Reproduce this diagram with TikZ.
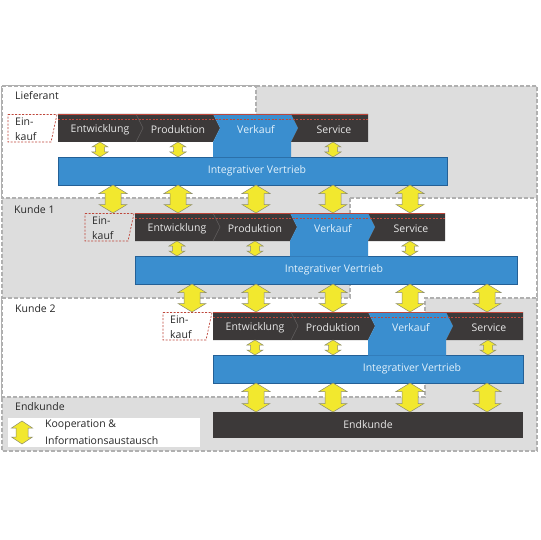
\documentclass[tikz,border=0pt]{standalone}
\usepackage{fontspec}
\setmainfont{Open Sans}
\usetikzlibrary{positioning}

\definecolor{bggrey}{RGB}{221,221,221}
\definecolor{dashgrey}{RGB}{176,176,176}
\definecolor{bardark}{RGB}{60,57,57}
\definecolor{sepgrey}{RGB}{98,94,94}
\definecolor{vblue}{RGB}{58,142,207}
\definecolor{vblueedge}{RGB}{36,96,150}
\definecolor{koopyellow}{RGB}{242,232,46}
\definecolor{koopedge}{RGB}{140,140,110}
\definecolor{einred}{RGB}{190,70,58}
\definecolor{bartext}{RGB}{232,232,232}
\definecolor{bluetext}{RGB}{226,241,251}
\definecolor{labeltext}{RGB}{40,40,40}

% Doppelpfeil: x, oben, unten, halbe Kopfbreite, halbe Schaftbreite, Kopflaenge
\newcommand{\kooparrow}[6]{%
  \draw[koop] (#1,#2) -- (#1+#4,#2+#6) -- (#1+#5,#2+#6) -- (#1+#5,#3-#6)
    -- (#1+#4,#3-#6) -- (#1,#3) -- (#1-#4,#3-#6) -- (#1-#5,#3-#6)
    -- (#1-#5,#2+#6) -- (#1-#4,#2+#6) -- cycle;}

\begin{document}
\begin{tikzpicture}[x=1pt, y=-1pt,
  area/.style={draw=dashgrey, line width=1.1pt, dash pattern=on 4pt off 2pt},
  bluebar/.style={fill=vblue, draw=vblueedge, line width=0.6pt},
  darkbar/.style={fill=bardark},
  verkauf/.style={fill=vblue},
  sepline/.style={draw=sepgrey, line width=0.5pt},
  einkauf/.style={draw=einred, line width=0.7pt, dash pattern=on 2pt off 1.5pt},
  redline/.style={draw=einred, line width=0.5pt},
  koop/.style={fill=koopyellow, draw=koopedge, line width=0.5pt, line join=miter},
  barlabel/.style={text=bartext, inner sep=0pt, font=\fontsize{10.5}{12}\selectfont},
  vtlabel/.style={text=bluetext, inner sep=0pt, font=\fontsize{10.5}{12}\selectfont},
  tierlabel/.style={anchor=west, text=labeltext, inner sep=0pt, font=\fontsize{10.5}{12}\selectfont},
  einlabel/.style={anchor=west, align=left, text=labeltext, inner sep=0pt, font=\fontsize{10.5}{14.5}\selectfont}]

  \useasboundingbox (0,0) rectangle (540,540);

  % --- Hintergrund ---
  \draw[area, fill=bggrey] (2,86) rectangle (537,451);
  \draw[area, fill=white] (2,86) -- (256,86) -- (256,198) -- (2,198) -- cycle;
  \draw[area, fill=white] (350,198) -- (537,198) -- (537,298) -- (425,298)
    -- (425,397) -- (2,397) -- (2,298) -- (350,298) -- cycle;

  \node[tierlabel] (lief) at (15,96) {Lieferant};
  \node[tierlabel] (kd1) at (14,210) {Kunde 1};
  \node[tierlabel] (kd2) at (15,309) {Kunde 2};
  \node[tierlabel] (endl) at (15,407) {Endkunde};

  % --- Stufen: Lieferant, Kunde 1, Kunde 2 ---
  \foreach \t/\xo/\yo/\be in {0/58/114/447, 1/135/213/517, 2/213/312/523} {
    \pgfmathsetmacro{\sa}{\xo+78}
    \pgfmathsetmacro{\sb}{\xo+155}
    \pgfmathsetmacro{\sc}{\xo+233}
    \pgfmathsetmacro{\se}{\xo+310}
    \pgfmathsetmacro{\ym}{\yo+14}
    \pgfmathsetmacro{\yb}{\yo+28}
    \pgfmathsetmacro{\yv}{\yo+43}
    \pgfmathsetmacro{\yw}{\yo+71}
    % Integrativer Vertrieb
    \draw[bluebar] (\xo,\yv) rectangle (\be,\yw);
    % Entwicklung + Produktion
    \fill[darkbar] (\xo,\yo) -- (\sb,\yo) -- (\sb+7,\ym) -- (\sb,\yb) -- (\xo,\yb) -- cycle;
    \draw[sepline] (\sa,\yo) -- (\sa+7,\ym) -- (\sa,\yb);
    % Verkauf, nach unten offen
    \fill[verkauf] (\sb,\yo) -- (\sc,\yo) -- (\sc+7,\ym) -- (\sc,\yb) -- (\sc,\yv+0.5)
      -- (\sb,\yv+0.5) -- (\sb,\yb) -- (\sb+7,\ym) -- cycle;
    % Service
    \fill[darkbar] (\sc,\yo) -- (\se,\yo) -- (\se,\yb) -- (\sc,\yb) -- (\sc+7,\ym) -- cycle;
    % Einkauf
    \draw[redline] (\xo,\yo+0.5) -- (\se,\yo+0.5);
    \draw[einkauf] (\xo,\yo+5) -- (\se,\yo+5);
    \draw[einkauf] (\xo-50,\yo+0.5) -- (\xo-1,\yo+0.5) -- (\xo-7,\yb) -- (\xo-50,\yb) -- cycle;
    \node[einlabel] (ein\t) at (\xo-43,\ym+1) {Ein-\\kauf};

    \node[barlabel] (ent\t) at (\xo+42,\ym+1.5) {Entwicklung};
    \node[barlabel] (pro\t) at (\xo+120,\ym+1.5) {Produktion};
    \node[vtlabel] (ver\t) at (\xo+198,\ym+1.5) {Verkauf};
    \node[barlabel] (ser\t) at (\xo+276,\ym+1.5) {Service};
    \node[vtlabel] (vt\t) at (\xo+199,\yv+14) {Integrativer Vertrieb};

    % kleine Pfeile zum Vertrieb
    \foreach \dx in {42,120,275} {
      \kooparrow{\xo+\dx}{\yb}{\yv}{8}{4.5}{5}
    }
  }

  % --- Endkunde ---
  \node[darkbar, minimum width=310pt, minimum height=26pt, inner sep=0pt,
        text=bartext, font=\fontsize{10.5}{12}\selectfont] (endk) at (368,425) {Endkunde};

  % grosse Pfeile zwischen den Stufen
  \foreach \x in {113,178,256,333,410} {
    \kooparrow{\x}{185}{213}{14}{8}{8.5}
  }
  \foreach \x in {192,256,333,410,487} {
    \kooparrow{\x}{284}{312}{14}{8}{8.5}
  }
  \foreach \x in {256,333,410,487} {
    \kooparrow{\x}{383}{412}{14}{8}{8.5}
  }

  % Legende
  \node[fill=white, minimum width=192pt, minimum height=29pt, inner sep=0pt] (legend) at (104,432.5) {};
  \kooparrow{22}{421}{444}{10.5}{6}{7}
  \node[einlabel, font=\fontsize{10.5}{17}\selectfont] (koop) at (45,432) {Kooperation \&\\Informationsaustausch};
\end{tikzpicture}
\end{document}
